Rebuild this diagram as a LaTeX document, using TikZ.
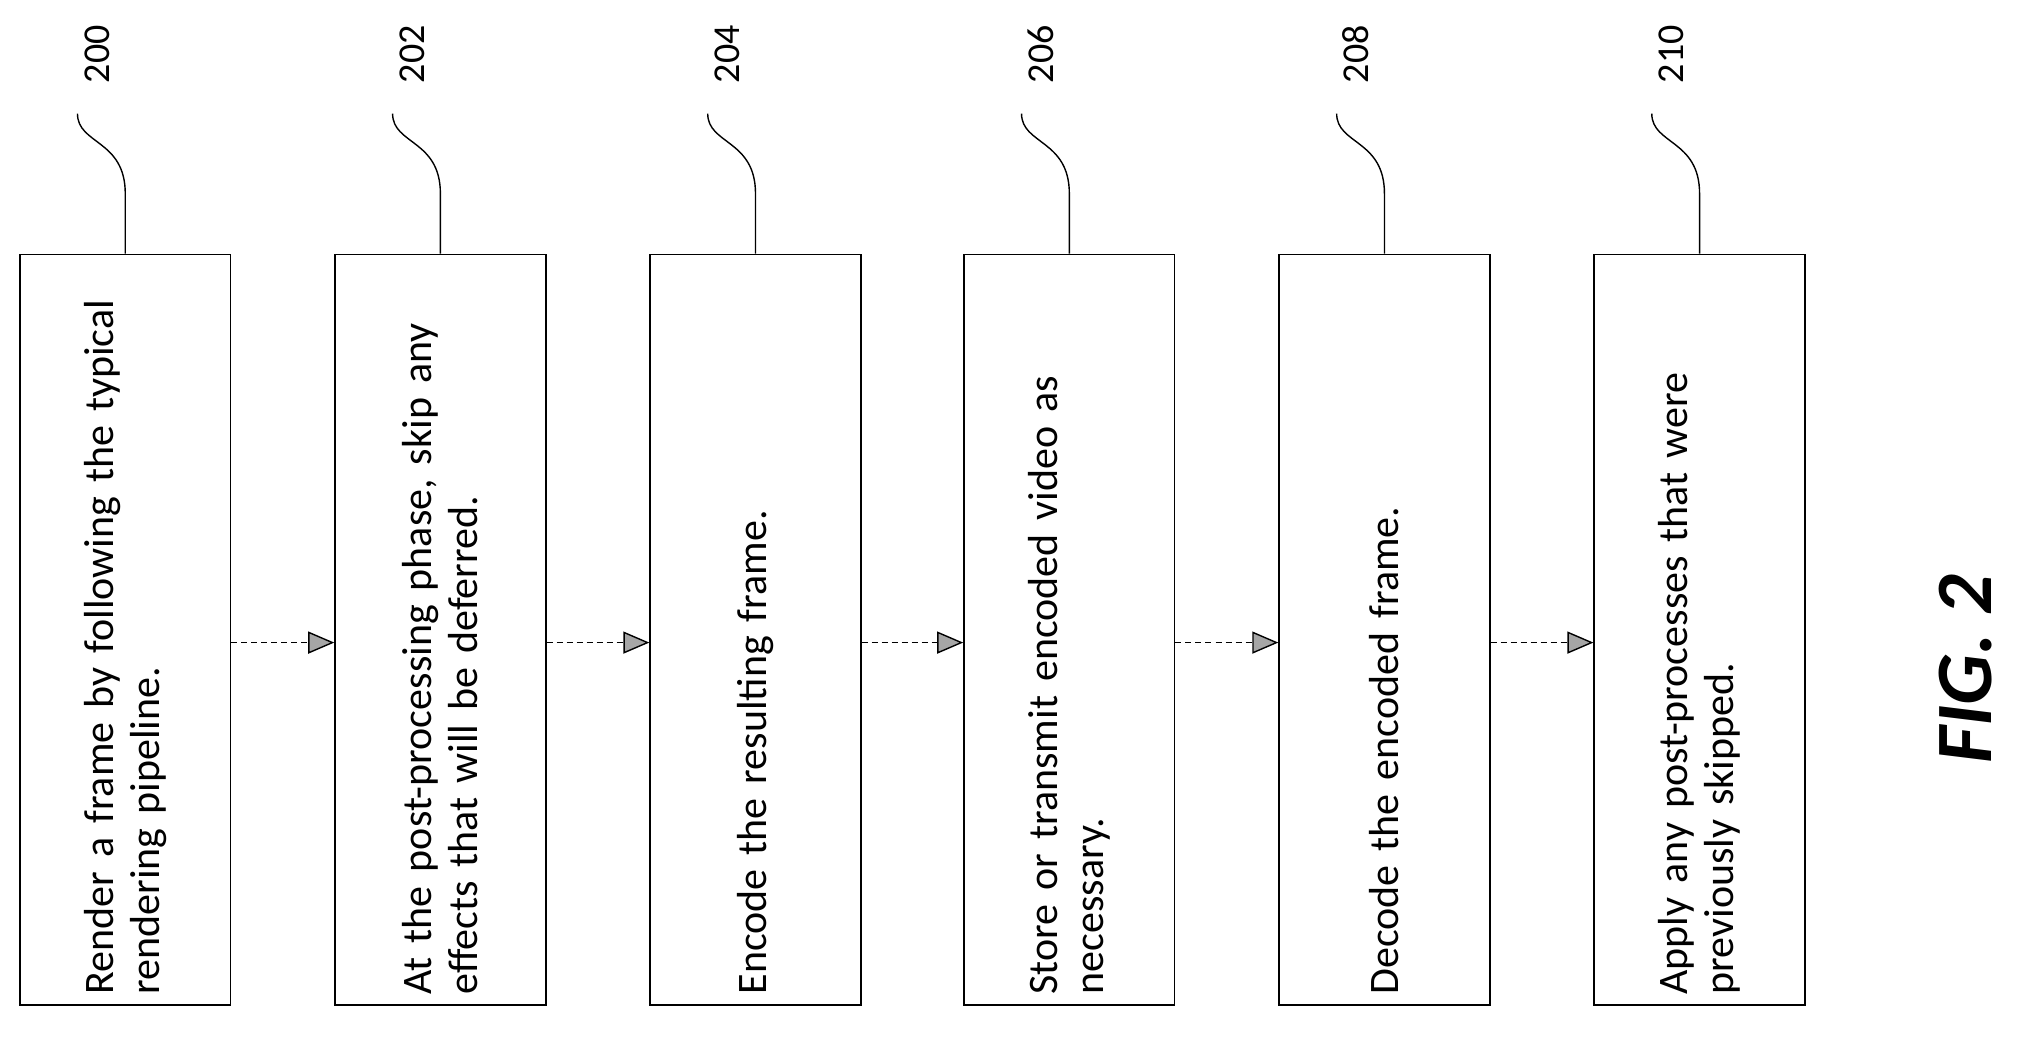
\documentclass[tikz,border=0pt]{standalone}
\usepackage{fontspec}
\setmainfont{Carlito}
\usetikzlibrary{arrows.meta}
\begin{document}
\begin{tikzpicture}[x=0.6457pt,y=-0.6457pt,
  box/.style={draw,line width=0.9pt,minimum width=163*0.6457pt,minimum height=581*0.6457pt,inner sep=0},
  txt/.style={rotate=90,text width=562*0.6457pt,align=left,font=\fontsize{21}{23}\selectfont,inner sep=0},
  lab/.style={rotate=90,font=\fontsize{19}{22}\selectfont},
  arr/.style={densely dashed,line width=0.7pt,-{Triangle[length=13pt,width=11pt,fill=gray!70]}},
  lead/.style={line width=0.7pt}]
\useasboundingbox (0,0) rectangle (1568,812);
\foreach \i/\x/\n/\t in {0/97/200/{Render a frame by following the typical\\ rendering pipeline.},
  1/341/202/{At the post-processing phase, skip any\\ effects that will be deferred.},
  2/585/204/{Encode the resulting frame.},
  3/828/206/{Store or transmit encoded video as\\ necessary.},
  4/1072/208/{Decode the encoded frame.},
  5/1316/210/{Apply any post-processes that were\\ previously skipped.}}{
  \node[box] (b\i) at (\x,487.5) {};
  \node[txt] (t\i) at (\x,489) {\t};
  \node[lab] (l\i) at (\x-22,42) {\n};
  \coordinate (c\i) at (\x-37,88);
  \draw[lead] (c\i) .. controls (\x-37,112) and (\x,108) .. (\x,150) -- (b\i.north);
}
\foreach \a/\b in {0/1,1/2,2/3,3/4,4/5}{
  \draw[arr] ([yshift=-6.5pt]b\a.east) -- ([yshift=-6.5pt]b\b.west);
}
\node[rotate=90,font=\fontsize{40}{40}\selectfont\bfseries\itshape] (fig) at (1522,518) {FIG. 2};
\end{tikzpicture}
\end{document}
